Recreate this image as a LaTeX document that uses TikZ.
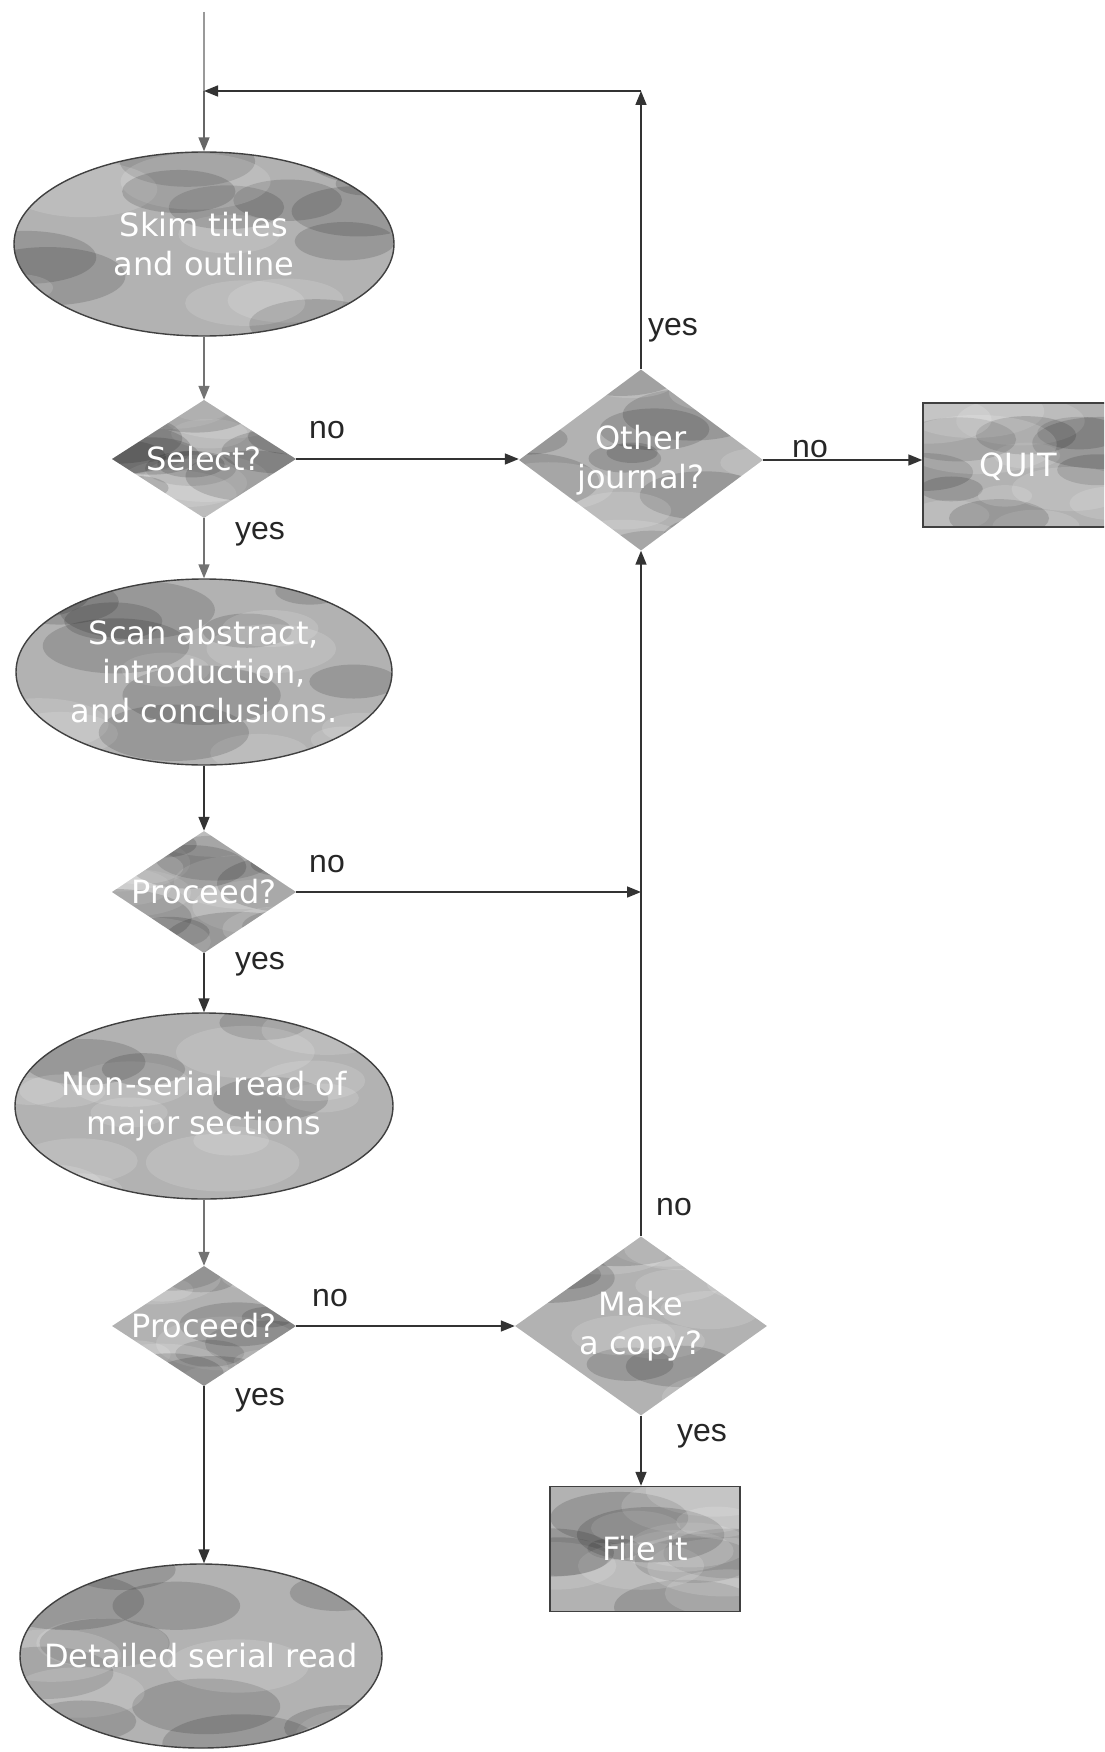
\documentclass[tikz,border=0pt]{standalone}
\usepackage{fontspec}
\setmainfont{Liberation Sans}
\newfontfamily\boxfont{DejaVu Sans}
\usetikzlibrary{shapes.geometric,arrows.meta,calc}

\tikzset{
  flow/.style={line width=1.6pt, draw=black!80},
  arr/.style={flow, -{Triangle[length=14pt,width=11pt]}},
  % blotchy grey fill: random light and dark patches clipped to the shape
  mottle/.style={fill=gray!60, path picture={
    \pgfmathsetseed{#1}
    \foreach \k in {1,...,18}{
      \pgfmathsetmacro\mx{rnd-0.5}
      \pgfmathsetmacro\my{rnd-0.5}
      \pgfmathsetmacro\ms{rnd}
      \pgfmathsetmacro\mt{rnd}
      \path let \p1=(path picture bounding box.south west),
                \p2=(path picture bounding box.north east) in
        coordinate (blob) at ({0.5*(\x1+\x2)+\mx*(\x2-\x1)},{0.5*(\y1+\y2)+\my*(\y2-\y1)});
      \ifdim\mt pt<0.5pt \def\blobcol{white}\else\def\blobcol{black}\fi
      \fill[\blobcol, opacity=0.14] (blob) ellipse [x radius={25pt+55pt*\ms}, y radius={10pt+20pt*\ms}];
    }
  }},
  oval/.style={ellipse, draw=black!75, line width=1.4pt, inner sep=0pt},
  decide/.style={diamond, inner sep=0pt},
  block/.style={rectangle, draw=black!75, line width=1.4pt, inner sep=0pt},
  ntext/.style={font=\boxfont\fontsize{32}{39}\selectfont, text=white, align=center},
  lbl/.style={font=\fontsize{32}{38}\selectfont, text=black!85},
}

\begin{document}
\begin{tikzpicture}[x=1pt,y=-1pt]
\useasboundingbox (0,0) rectangle (1104,1752);
\clip (0,0) rectangle (1104,1752);

% process ovals
\node[oval, mottle=3, minimum width=380pt, minimum height=184pt] (skim) at (204,244) {};
\node[ntext] (skimtext) at (skim) {Skim titles\\and outline};

\node[oval, mottle=7, minimum width=376pt, minimum height=186pt] (scan) at (204,672) {};
\node[ntext] (scantext) at (scan) {Scan abstract,\\introduction,\\and conclusions.};

\node[oval, mottle=11, minimum width=378pt, minimum height=186pt] (nsr) at (204,1106) {};
\node[ntext] (nsrtext) at (nsr) {Non-serial read of\\major sections};

\node[oval, mottle=19, minimum width=362pt, minimum height=184pt] (det) at (201,1656) {};
\node[ntext] (dettext) at (det) {Detailed serial read};

% decisions
\node[decide, mottle=5, minimum width=184pt, minimum height=118pt] (sel) at (204,459) {};
\node[ntext] (seltext) at (sel) {Select?};

\node[decide, mottle=13, minimum width=184pt, minimum height=122pt] (p1) at (204,892) {};
\node[ntext] (p1text) at (p1) {Proceed?};

\node[decide, mottle=17, minimum width=184pt, minimum height=120pt] (p2) at (204,1326) {};
\node[ntext] (p2text) at (p2) {Proceed?};

\node[decide, mottle=23, minimum width=244pt, minimum height=181pt] (oj) at (641,460) {};
\node[ntext] (ojtext) at (oj) {Other\\journal?};

\node[decide, mottle=29, minimum width=252pt, minimum height=179pt] (mc) at (641,1326) {};
\node[ntext] (mctext) at (mc) {Make\\a copy?};

% terminal boxes
\node[block, mottle=31, minimum width=194pt, minimum height=124pt] (quit) at (1020,465) {};
\node[ntext] (quittext) at (1018,467) {QUIT};

\node[block, mottle=37, minimum width=190pt, minimum height=125pt] (file) at (645,1549) {};
\node[ntext] (filetext) at (file) {File it};

% loop-back coordinates
\coordinate (top) at (204,12);
\coordinate (join) at (204,91);
\coordinate (corner) at (641,91);
\coordinate (merge) at (p1.east -| mc.north);

% connectors
\draw[flow, draw=black!40] (top) -- (join);
\draw[arr, draw=black!60] (join) -- (skim.north);
\draw[arr] (oj.north) -- (corner);
\draw[arr] (corner) -- (join);
\draw[arr, draw=black!55] (skim.south) -- (sel.north);
\draw[arr] (sel.east) -- (sel.east -| oj.west);
\draw[arr] (oj.east) -- (oj.east -| quit.west);
\draw[arr, draw=black!55] (sel.south) -- (scan.north);
\draw[arr] (scan.south) -- (p1.north);
\draw[arr] (p1.east) -- (merge);
\draw[arr] (mc.north) -- (oj.south);
\draw[arr] (p1.south) -- (nsr.north);
\draw[arr, draw=black!55] (nsr.south) -- (p2.north);
\draw[arr] (p2.east) -- (mc.west);
\draw[arr] (mc.south) -- (mc.south |- file.north);
\draw[arr] (p2.south) -- (p2.south |- det.north);

% branch labels
\node[lbl] (l1) at (327,430) {no};
\node[lbl] (l2) at (260,534) {yes};
\node[lbl] (l3) at (673,330) {yes};
\node[lbl] (l4) at (810,449) {no};
\node[lbl] (l5) at (327,864) {no};
\node[lbl] (l6) at (260,964) {yes};
\node[lbl] (l7) at (330,1298) {no};
\node[lbl] (l8) at (260,1400) {yes};
\node[lbl] (l9) at (674,1207) {no};
\node[lbl] (l10) at (702,1436) {yes};
\end{tikzpicture}
\end{document}
